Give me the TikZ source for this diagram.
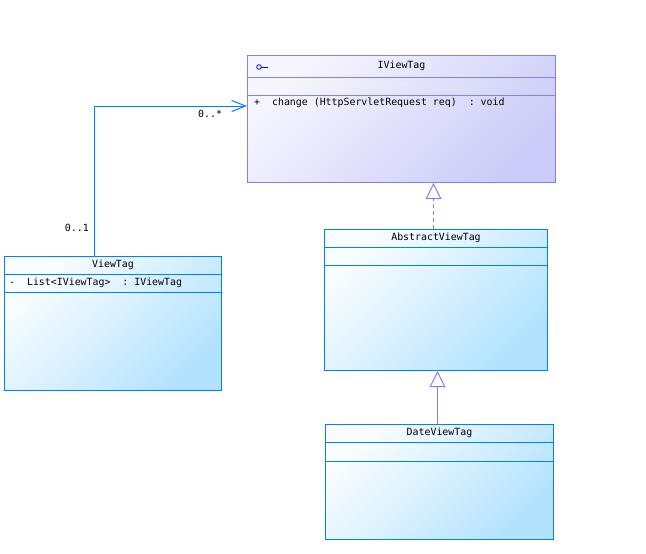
\documentclass[tikz,border=0pt]{standalone}
\usepackage{fontspec}
\setmonofont{DejaVu Sans Mono}
\usetikzlibrary{arrows.meta,calc}
\definecolor{ifborder}{RGB}{128,128,255}
\definecolor{iffill}{RGB}{204,204,248}
\definecolor{iflight}{RGB}{246,246,255}
\definecolor{clborder}{RGB}{0,128,255}
\definecolor{clfill}{RGB}{178,226,255}
\definecolor{cllight}{RGB}{250,253,255}
\definecolor{icon}{RGB}{0,0,230}
\begin{document}
\begin{tikzpicture}[x=1pt,y=-1pt,
  every node/.style={font=\ttfamily\fontsize{9.9}{12}\selectfont},
  ifbox/.style={draw=ifborder, line width=1pt, rectangle, inner sep=0pt, anchor=north west,
     top color=iflight, bottom color=iffill, middle color=iffill!50!iflight, shading angle=45},
  clbox/.style={draw=clborder, line width=1pt, rectangle, inner sep=0pt, anchor=north west,
     top color=cllight, bottom color=clfill, middle color=clfill!52!white, shading angle=45},
  txt/.style={inner sep=0pt, text=black},
  gen/.style={line width=1pt, -{Triangle[open, fill=white, length=16pt, width=16pt]}},
]
\useasboundingbox (0,0) rectangle (646,554);
% IViewTag
\node[ifbox, minimum width=308pt, minimum height=127pt] (iv) at (247,55) {};
\draw[ifborder, line width=1pt] ($(iv.north west)+(0,22)$) -- ($(iv.north east)+(0,22)$);
\draw[ifborder, line width=1pt] ($(iv.north west)+(0,40)$) -- ($(iv.north east)+(0,40)$);
\node[txt] (ivt) at ($(iv.north)+(0,11)$) {IViewTag};
\node[txt, anchor=west] (ivm) at ($(iv.north west)+(7,48)$) {+\ \ change (HttpServletRequest req)\ \ : void};
\draw[icon, line width=0.8pt] (259,67) circle (2.3pt);
\draw[icon, line width=0.8pt] (261.3,67) -- (268,67);
% ViewTag
\node[clbox, minimum width=217pt, minimum height=134pt] (vt) at (4,256) {};
\draw[clborder, line width=1pt] ($(vt.north west)+(0,18)$) -- ($(vt.north east)+(0,18)$);
\draw[clborder, line width=1pt] ($(vt.north west)+(0,36)$) -- ($(vt.north east)+(0,36)$);
\node[txt] (vtt) at ($(vt.north)+(0,9)$) {ViewTag};
\node[txt, anchor=west] (vta) at ($(vt.north west)+(5,27)$) {-\ \ List<IViewTag>\ \ : IViewTag};
% AbstractViewTag
\node[clbox, minimum width=223pt, minimum height=141pt] (ab) at (324,229) {};
\draw[clborder, line width=1pt] ($(ab.north west)+(0,18)$) -- ($(ab.north east)+(0,18)$);
\draw[clborder, line width=1pt] ($(ab.north west)+(0,36)$) -- ($(ab.north east)+(0,36)$);
\node[txt] (abt) at ($(ab.north)+(0,9)$) {AbstractViewTag};
% DateViewTag
\node[clbox, minimum width=228pt, minimum height=115pt] (dv) at (325,424) {};
\draw[clborder, line width=1pt] ($(dv.north west)+(0,18)$) -- ($(dv.north east)+(0,18)$);
\draw[clborder, line width=1pt] ($(dv.north west)+(0,37)$) -- ($(dv.north east)+(0,37)$);
\node[txt] (dvt) at ($(dv.north)+(0,9)$) {DateViewTag};
% generalizations
\coordinate (abtop) at ($(ab.north)+(-2.5,0)$);
\draw[gen, ifborder, dash pattern=on 4pt off 3pt] (abtop) -- (abtop |- iv.south);
\coordinate (dvtop) at ($(dv.north)+(-2,0)$);
\draw[gen, ifborder] (dvtop) -- (dvtop |- ab.south);
% association
\coordinate (vtp) at ($(vt.north west)+(90,0)$);
\coordinate (ivp) at ($(iv.north west)+(0,51)$);
\draw[clborder, line width=1pt, -{Straight Barb[length=14pt, width=11pt]}] (vtp) |- (ivp);
\node[txt, anchor=east] (m1) at (89,228) {0..1};
\node[txt, anchor=west] (m2) at (198,114) {0..*};
\end{tikzpicture}
\end{document}
